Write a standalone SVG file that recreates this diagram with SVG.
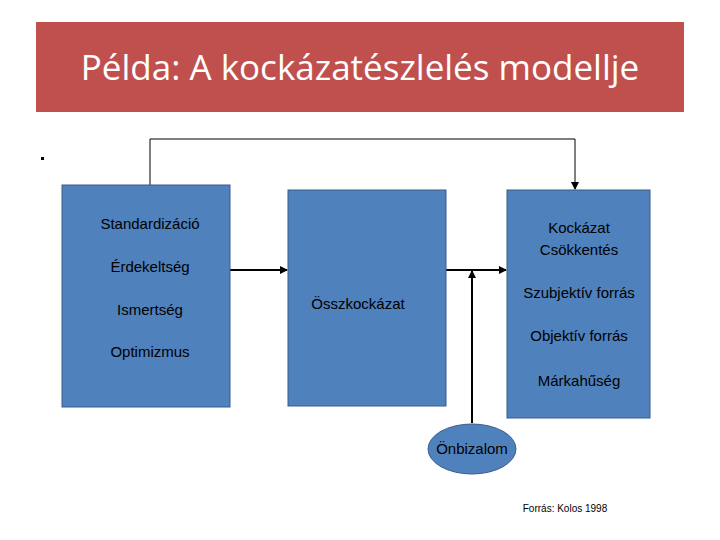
<svg xmlns="http://www.w3.org/2000/svg" width="720" height="540" viewBox="0 0 720 540">
<style>
.box{fill:#4F81BD;stroke:#385D8A;stroke-width:1}
.t{font-family:"Liberation Sans",Arial,sans-serif;font-size:15px;fill:#000;text-anchor:middle}
.ln{stroke:#000;stroke-width:2;fill:none}
.thin{stroke:#000;stroke-width:1;fill:none}
</style>
<defs>
<marker id="a" markerWidth="8" markerHeight="8" refX="7" refY="4" orient="auto" markerUnits="userSpaceOnUse"><path d="M0,0 L8,4 L0,8 Z" fill="#000"/></marker>
</defs>
<rect x="36" y="22" width="648" height="90" fill="#C0504D"/>
<text x="360" y="80" font-family="'Open Sans','Liberation Sans',sans-serif" font-size="35" fill="#fff" text-anchor="middle">Példa: A kockázatészlelés modellje</text>
<rect x="41" y="157" width="3" height="3" fill="#000"/>
<g id="connectors">
<path class="thin" d="M150,185 V139 H575 V189" marker-end="url(#a)"/>
<path class="ln" d="M230,270 H287" marker-end="url(#a)"/>
<path class="ln" d="M446,270 H506" marker-end="url(#a)"/>
<path class="ln" d="M472,423 V271" marker-end="url(#a)"/>
</g>
<g id="left"><rect class="box" x="62" y="185" width="168" height="222"/>
<text class="t" x="150" y="229">Standardizáció</text>
<text class="t" x="150" y="272">Érdekeltség</text>
<text class="t" x="150" y="315">Ismertség</text>
<text class="t" x="150" y="357">Optimizmus</text></g>
<g id="middle"><rect class="box" x="288" y="190" width="158" height="216"/>
<text class="t" x="358" y="309">Összkockázat</text></g>
<g id="right"><rect class="box" x="507" y="190" width="143" height="228"/>
<text class="t" x="579" y="233">Kockázat</text>
<text class="t" x="579" y="255">Csökkentés</text>
<text class="t" x="579" y="298">Szubjektív forrás</text>
<text class="t" x="579" y="341">Objektív forrás</text>
<text class="t" x="579" y="386">Márkahűség</text></g>
<g id="onbizalom"><ellipse class="box" cx="472" cy="449" rx="44" ry="25"/>
<text class="t" x="472" y="454">Önbizalom</text></g>
<text x="565" y="512" font-family="'Liberation Sans',Arial,sans-serif" font-size="10" text-anchor="middle">Forrás: Kolos 1998</text>
</svg>
